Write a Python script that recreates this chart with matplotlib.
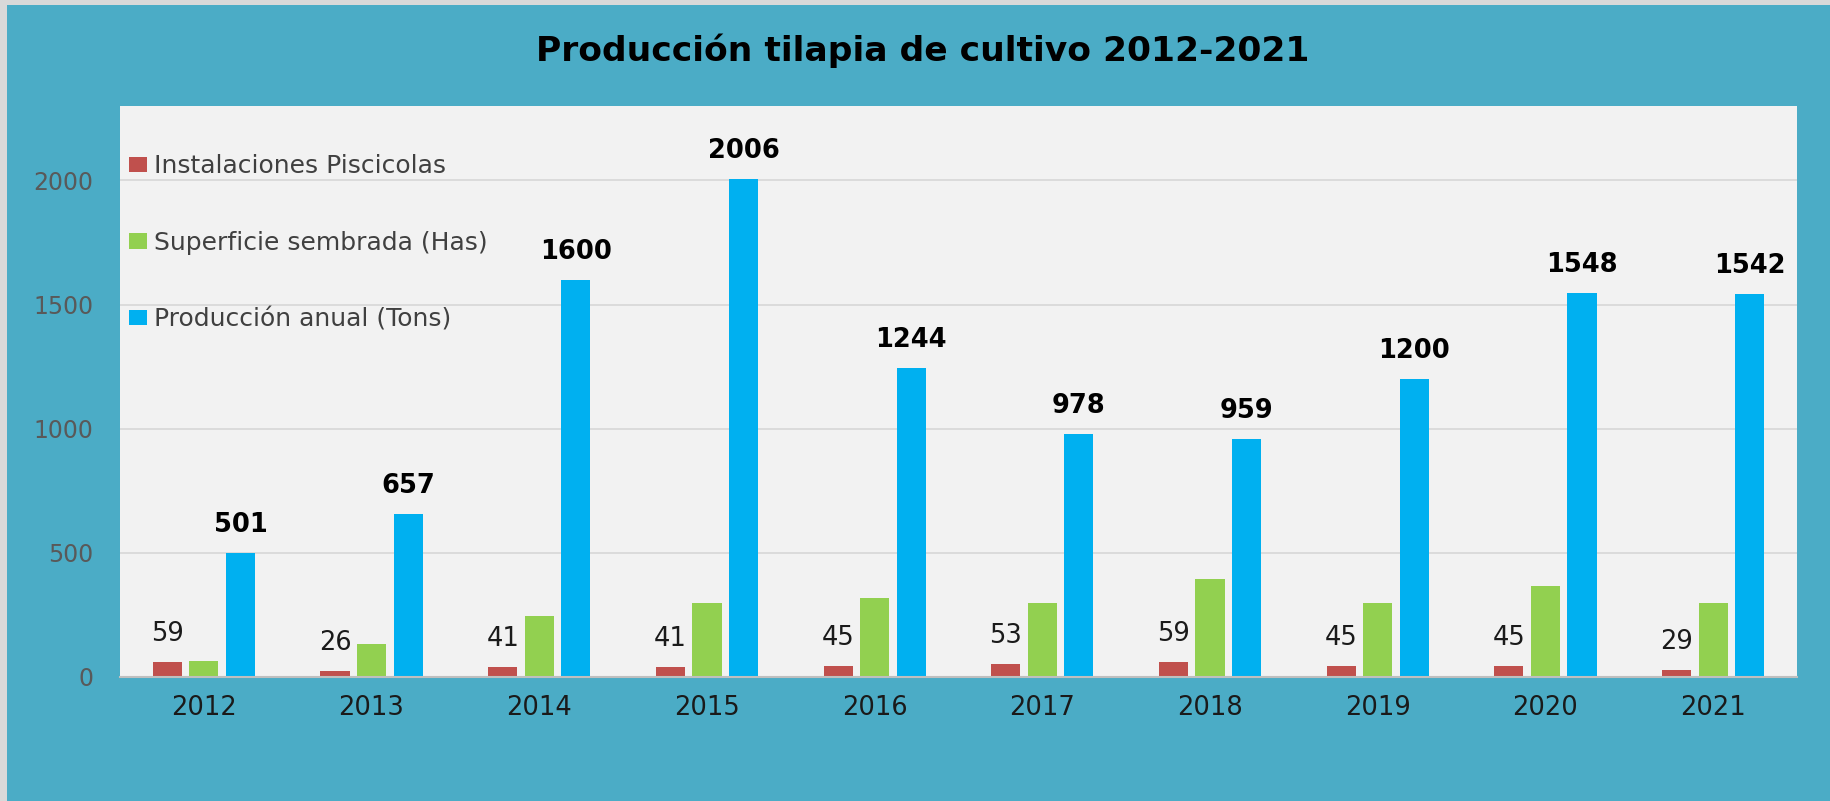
import matplotlib
matplotlib.use("Agg")
import matplotlib.pyplot as plt
import numpy as np
from matplotlib.patches import Rectangle

years = ["2012", "2013", "2014", "2015", "2016", "2017", "2018", "2019", "2020", "2021"]
instalaciones = [59, 26, 41, 41, 45, 53, 59, 45, 45, 29]
superficie = [65, 134, 246, 300, 320, 300, 394, 298, 367, 298]
produccion = [501, 657, 1600, 2006, 1244, 978, 959, 1200, 1548, 1542]
series_names = ["Instalaciones Piscicolas", "Superficie sembrada (Has)", "Producción anual (Tons)"]
title = "Producción tilapia de cultivo 2012-2021"

TEAL = "#4BACC6"
RED = "#C0504D"
GREEN = "#92D050"
BLUE = "#00B0F0"
FONT = ["DejaVu Sans"]

W, H = 1830, 801
fig = plt.figure(figsize=(W / 100, H / 100), dpi=100)
fig.patch.set_facecolor(TEAL)

# light gray border at top and left
fig.patches.append(Rectangle((0, 1 - 5 / H), 1, 5 / H, transform=fig.transFigure,
                             facecolor="#D9D9D9", edgecolor="none", zorder=0))
fig.patches.append(Rectangle((0, 0), 7 / W, 1, transform=fig.transFigure,
                             facecolor="#D9D9D9", edgecolor="none", zorder=0))

left, right, top, bottom = 120, 1797, 106, 677
ax = fig.add_axes([left / W, (H - bottom) / H, (right - left) / W, (bottom - top) / H])
ax.set_facecolor("#F2F2F2")

x = np.arange(len(years))
bw = 0.174
step = 0.218
ax.bar(x - step, instalaciones, bw, color=RED, label=series_names[0], zorder=3)
ax.bar(x, superficie, bw, color=GREEN, label=series_names[1], zorder=3)
ax.bar(x + step, produccion, bw, color=BLUE, label=series_names[2], zorder=3)

ax.set_xlim(-0.5, len(years) - 0.5)
ax.set_ylim(0, 2300)
ax.set_yticks([0, 500, 1000, 1500, 2000])
ax.yaxis.grid(True, color="#D9D9D9", linewidth=1.3, zorder=0)
ax.set_axisbelow(True)
for s in ["top", "right", "left"]:
    ax.spines[s].set_visible(False)
ax.spines["bottom"].set_color("#BFBFBF")
ax.spines["bottom"].set_linewidth(1.5)
ax.spines["bottom"].set_zorder(4)
ax.tick_params(axis="both", length=0)
ax.tick_params(axis="y", pad=19, labelcolor="#595959", labelsize=17)
ax.tick_params(axis="x", pad=13, labelcolor="#1a1a1a", labelsize=18.5)
ax.set_xticks(x)
ax.set_xticklabels(years)
for lab in ax.get_xticklabels() + ax.get_yticklabels():
    lab.set_family(FONT)

for xi, v in zip(x, instalaciones):
    ax.annotate(str(v), (xi - step, v), xytext=(0, 28), textcoords="offset pixels",
                ha="center", va="center", fontsize=18.5, color="#1a1a1a", family=FONT)
for xi, v in zip(x, produccion):
    ax.annotate(str(v), (xi + step, v), xytext=(0, 28), textcoords="offset pixels",
                ha="center", va="center", fontsize=18.5, fontweight="bold", color="#000000", family=FONT)

leg = ax.legend(loc="upper left", bbox_to_anchor=(-0.0006, 0.933), frameon=False,
                prop={"family": FONT, "size": 18}, labelspacing=2.1,
                handlelength=0.72, handleheight=0.56, handletextpad=0.28,
                borderaxespad=0.0, borderpad=0.4)
for t in leg.get_texts():
    t.set_color("#404040")

fig.text(0.504, 1 - 51 / H, title, ha="center", va="center", fontsize=24.8,
         fontweight="bold", color="#000000", family=FONT)

fig.savefig("out.png", dpi=100, facecolor=fig.get_facecolor())
